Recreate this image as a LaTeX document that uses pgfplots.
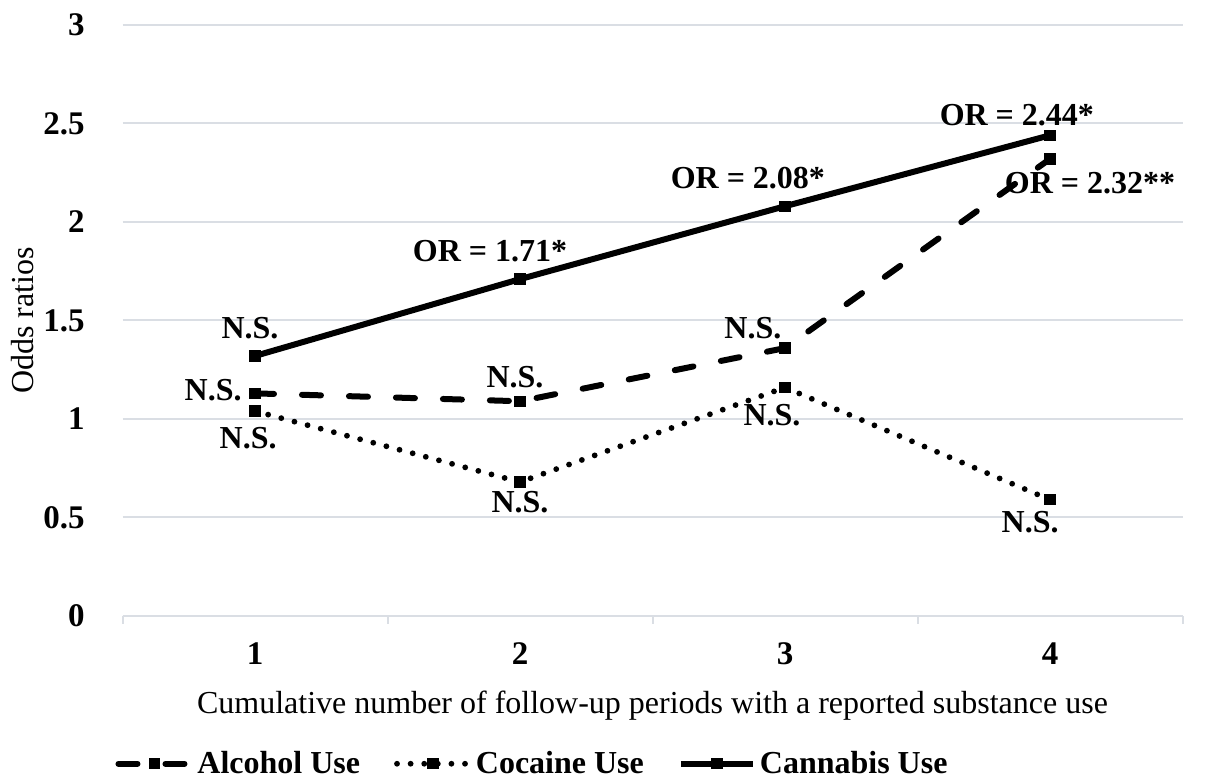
\documentclass[border=0pt]{standalone}
\usepackage{pgfplots}
\pgfplotsset{compat=1.18}
\usepackage{fontspec}
\setmainfont{Liberation Serif}
\definecolor{gridc}{HTML}{DADEE4}
\begin{document}
\begin{tikzpicture}
\path[use as bounding box] (0,0) rectangle (608pt,389.5pt);
\begin{axis}[
  at={(61.25pt,81.5pt)}, anchor=south west,
  width=530pt, height=295.5pt, scale only axis,
  xmin=0.5, xmax=4.5, ymin=0, ymax=3,
  xtick={1,2,3,4},
  minor xtick={0.5,1.5,2.5,3.5,4.5},
  major x tick style={draw=none},
  minor x tick style={draw=gridc, line width=1pt},
  minor tick length=4pt,
  tick align=outside,
  ytick={0,0.5,1,1.5,2,2.5,3},
  yticklabels={0,0.5,1,1.5,2,2.5,3},
  ytick style={draw=none},
  axis x line*=bottom, axis y line*=left,
  x axis line style={draw=gridc, line width=1pt, -},
  y axis line style={draw=none},
  ymajorgrids, grid style={draw=gridc, line width=1pt},
  font=\fontsize{16pt}{19pt}\selectfont,
  xticklabel style={font=\fontsize{16.5pt}{19pt}\selectfont\bfseries, inner sep=0pt, anchor=north, yshift=-9pt},
  yticklabel style={font=\fontsize{16.5pt}{19pt}\selectfont\bfseries, inner sep=0pt, anchor=east, xshift=-14.5pt},
  /pgf/number format/assume math mode=true,
  xlabel={Cumulative number of follow-up periods with a reported substance use},
  xlabel style={at={(axis description cs:0.5,-0.152)}, anchor=center, inner sep=0pt},
  ylabel={Odds ratios},
  ylabel style={at={(axis description cs:-0.094,0.5)}, anchor=center, inner sep=0pt},
  legend columns=3,
  legend style={at={(axis description cs:-0.007,-0.250)}, anchor=west, draw=none, fill=none,
    inner sep=0pt, font=\fontsize{16pt}{19pt}\selectfont\bfseries,
    /tikz/every even column/.append style={column sep=15pt}},
  legend cell align=left,
  legend image code/.code={\draw[mark repeat=2,mark phase=2,#1] plot coordinates {(0pt,0pt)(18pt,0pt)(36pt,0pt)};},
  clip=false,
]
\addplot[black, line width=3pt, dash pattern=on 9.5pt off 14pt, line cap=round,
  mark=square*, mark size=2.6pt, mark options={solid, line width=0pt}]
  coordinates {(1,1.13) (2,1.09) (3,1.36) (4,2.32)};
\addlegendentry{Alcohol Use}
\addplot[black, line width=2.9pt, dash pattern=on 0pt off 6.8pt, line cap=round,
  mark=square*, mark size=2.6pt, mark options={solid, line width=0pt}]
  coordinates {(1,1.04) (2,0.68) (3,1.16) (4,0.59)};
\addlegendentry{Cocaine Use}
\addplot[black, line width=3pt,
  mark=square*, mark size=2.6pt, mark options={solid, line width=0pt}]
  coordinates {(1,1.32) (2,1.71) (3,2.08) (4,2.44)};
\addlegendentry{Cannabis Use}
\begin{scope}[every node/.style={font=\fontsize{16pt}{19pt}\selectfont\bfseries, inner sep=0pt, anchor=center}]
\node at (axis cs:0.981,1.462) {N.S.};
\node at (axis cs:0.842,1.147) {N.S.};
\node at (axis cs:0.974,0.904) {N.S.};
\node at (axis cs:1.981,1.213) {N.S.};
\node at (axis cs:2.0,0.579) {N.S.};
\node at (axis cs:1.887,1.853) {OR = 1.71*};
\node at (axis cs:2.860,2.223) {OR = 2.08*};
\node at (axis cs:2.879,1.462) {N.S.};
\node at (axis cs:2.951,1.020) {N.S.};
\node at (axis cs:3.875,2.543) {OR = 2.44*};
\node at (axis cs:4.151,2.198) {OR = 2.32**};
\node at (axis cs:3.925,0.477) {N.S.};
\end{scope}
\end{axis}
\end{tikzpicture}
\end{document}
